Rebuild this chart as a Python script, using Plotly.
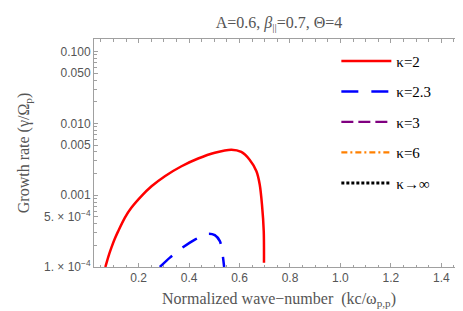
import plotly.graph_objects as go

# ---- data ----
k_kappa2 = [0.068, 0.080, 0.092, 0.105, 0.119, 0.145, 0.171, 0.211, 0.251, 0.304, 0.370, 0.436,
            0.502, 0.568, 0.607, 0.640, 0.667, 0.680, 0.689, 0.696, 0.697]
g_kappa2 = [1.0e-4, 1.4e-4, 1.86e-4, 2.45e-4, 3.16e-4, 4.84e-4, 6.67e-4, 9.7e-4, 1.33e-3, 1.84e-3, 2.53e-3, 3.24e-3,
            3.9e-3, 4.31e-3, 4.0e-3, 3.12e-3, 2.15e-3, 1.41e-3, 7.4e-4, 3.16e-4, 1.15e-4]

k_kappa23 = [0.284, 0.324, 0.370, 0.423, 0.475, 0.502, 0.522, 0.531, 0.539]
g_kappa23 = [1.0e-4, 1.35e-4, 1.82e-4, 2.41e-4, 2.9e-4, 2.78e-4, 2.29e-4, 1.66e-4, 1.0e-4]

# kappa = 3, 6, infinity: no growth inside the plotted range (legend entries only)
k_kappa3, g_kappa3 = [None], [None]
k_kappa6, g_kappa6 = [None], [None]
k_kinf, g_kinf = [None], [None]

series_names = ["κ=2", "κ=2.3", "κ=3", "κ=6", "κ→∞"]

y_tickvals = [1e-4, 5e-4, 1e-3, 5e-3, 1e-2, 5e-2, 1e-1]
y_ticktext = ["1. × 10<sup>−4</sup>", "5. × 10<sup>−4</sup>", "0.001", "0.005", "0.010", "0.050", "0.100"]
y_minor = [m * 10 ** e for e in (-4, -3, -2, -1) for m in range(2, 10) if m * 10 ** e < 0.15]

x_tickvals = [0.2, 0.4, 0.6, 0.8, 1.0, 1.2, 1.4]
x_ticktext = ["0.2", "0.4", "0.6", "0.8", "1.0", "1.2", "1.4"]
x_minor = [round(0.05 * i, 2) for i in range(1, 30)]

serif = "Liberation Serif"
sans = "Liberation Sans"
gray = "#555555"

fig = go.Figure()
styles = [
    ("#FF0000", "solid", 2.5),
    ("#0000FF", "17px,13px", 2.5),
    ("#800080", "12px,5px", 2.2),
    ("#FF8000", "6px,3px,2px,3px", 2.2),
    ("#000000", "3px,2px", 3.0),
]
data = [(k_kappa2, g_kappa2), (k_kappa23, g_kappa23), (k_kappa3, g_kappa3),
        (k_kappa6, g_kappa6), (k_kinf, g_kinf)]
for name, (xs, ys), (c, d, w) in zip(series_names, data, styles):
    fig.add_trace(go.Scatter(
        x=xs, y=ys, mode="lines", name=name, legendgroup=name,
        line=dict(color=c, dash=d, width=w, shape="spline", smoothing=0.8),
    ))

fig.update_layout(
    width=463, height=311,
    margin=dict(l=86, r=7, t=31, b=52, autoexpand=False),
    paper_bgcolor="white", plot_bgcolor="white",
    title=dict(text="A=0.6, <i>β</i><sub>||</sub>=0.7, Θ=4",
               xref="paper", x=0.5, xanchor="center",
               yref="container", y=0.955, yanchor="middle",
               font=dict(family=serif, size=16, color=gray)),
    legend=dict(x=0.655, y=0.975, xanchor="left", yanchor="top",
                font=dict(family=serif, size=15, color="black"),
                tracegroupgap=8, itemwidth=50, bgcolor="rgba(0,0,0,0)"),
    showlegend=True,
)

axis_common = dict(
    showline=True, linecolor="#a0a0a0", linewidth=1, mirror="ticks",
    ticks="inside", ticklen=4, tickcolor="#a0a0a0", showgrid=False, zeroline=False,
    tickfont=dict(family=sans, size=12, color=gray), automargin=False,
)
fig.update_xaxes(
    range=[0.023, 1.49], tickmode="array", tickvals=x_tickvals, ticktext=x_ticktext,
    minor=dict(tickmode="array", tickvals=x_minor, ticks="inside", ticklen=2.5, tickcolor="#a0a0a0"),
    title=dict(text="Normalized wave−number  (kc/ω<sub>p,p</sub>)",
               font=dict(family=serif, size=16, color=gray), standoff=8),
    **axis_common,
)
fig.update_yaxes(
    type="log", range=[-4, -0.825], tickmode="array", tickvals=y_tickvals, ticktext=y_ticktext,
    minor=dict(tickmode="array", tickvals=y_minor, ticks="inside", ticklen=2.5, tickcolor="#a0a0a0"),
    title=dict(text="Growth rate (γ/Ω<sub>p</sub>)",
               font=dict(family=serif, size=16, color=gray), standoff=10),
    **axis_common,
)

fig.write_html("out.html")
